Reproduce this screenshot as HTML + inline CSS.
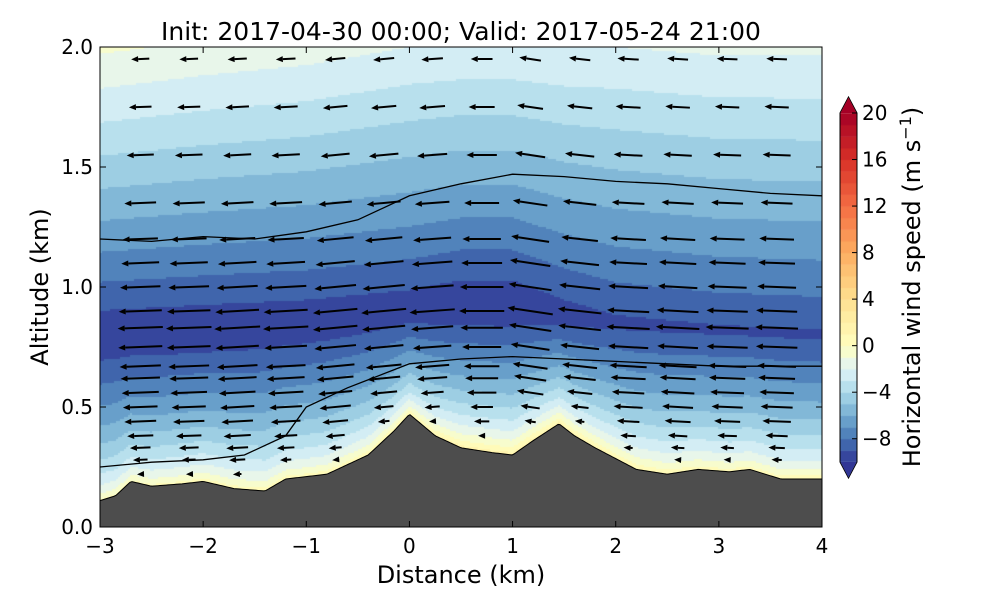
<!DOCTYPE html>
<html><head><meta charset="utf-8"><style>
body{margin:0;background:#fff;width:1000px;height:600px;overflow:hidden;font-family:"DejaVu Sans","Liberation Sans",sans-serif}
#wrap{position:relative;width:1000px;height:600px}
canvas,svg{position:absolute;left:0;top:0}
svg text{font-family:"DejaVu Sans","Liberation Sans",sans-serif}
</style></head><body>
<div id="wrap">
<canvas id="cv" width="1000" height="600"></canvas>
<svg id="sv" width="1000" height="600"></svg>
</div>
<script>
// ---- data ----
const colX = [-3,-2,-1,0,0.5,1,1.5,2,3,4];
const coreAlt = [0.8,0.82,0.85,0.9,0.92,0.92,0.88,0.85,0.82,0.8];
const coreSpeed = [-10,-10,-9.9,-9.8,-10,-10,-9.6,-9.3,-9.2,-9.2];
const topSpeed = [-0.8,-1.2,-1.5,-2,-2.1,-2.1,-2,-2,-1.8,-1.8];
const surfSpeed = [0.5,1,1,1.5,2,2,2,1.5,1,1];
const terrX = [-3,-2.85,-2.7,-2.5,-2.2,-2,-1.7,-1.4,-1.2,-0.8,-0.4,-0.15,0,0.25,0.5,0.8,1,1.2,1.45,1.6,1.8,2.2,2.5,2.8,3.1,3.3,3.6,4];
const terrZ = [0.11,0.13,0.19,0.17,0.18,0.19,0.16,0.15,0.2,0.22,0.3,0.4,0.47,0.38,0.33,0.31,0.3,0.36,0.43,0.38,0.33,0.24,0.22,0.24,0.23,0.24,0.2,0.2];
const line1X = [-3,-2.5,-2,-1.5,-1,-0.5,0,0.5,1,1.5,2,2.5,3,3.5,4];
const line1Z = [1.2,1.19,1.21,1.2,1.23,1.28,1.38,1.43,1.47,1.46,1.44,1.43,1.41,1.39,1.38];
const line2X = [-3,-2.5,-2,-1.6,-1.2,-1,-0.6,-0.3,0,0.5,1,1.5,2,2.5,3,3.5,4];
const line2Z = [0.25,0.27,0.28,0.3,0.38,0.5,0.58,0.63,0.68,0.7,0.71,0.7,0.69,0.68,0.67,0.67,0.67];
const arrowX = [-2.61,-2.14,-1.67,-1.2,-0.72,-0.25,0.22,0.7,1.17,1.65,2.12,2.6,3.08,3.56];
const arrowZ = [1.95,1.75,1.55,1.35,1.2,1.1,1.0,0.9,0.83,0.75,0.67,0.62,0.56,0.5,0.44,0.38,0.33,0.28,0.22];
const xTicks = [-3,-2,-1,0,1,2,3,4];
const yTicks = [0.0,0.5,1.0,1.5,2.0];
const cbTicks = [20,16,12,8,4,0,-4,-8];

// ---- scales ----
const X = x => 100 + (x + 3) * (722 / 7);
const Y = z => 527 - z * 240;
const CB = v => 462 - (v + 10) * (349 / 30);
function interp(xs, ys, x){
  if (x <= xs[0]) return ys[0];
  for (let i = 1; i < xs.length; i++) if (x <= xs[i]) {const t=(x-xs[i-1])/(xs[i]-xs[i-1]); return ys[i-1]+t*(ys[i]-ys[i-1]);}
  return ys[ys.length-1];
}
const stops = ['#313695','#4575b4','#74add1','#abd9e9','#e0f3f8','#ffffbf','#fee090','#fdae61','#f46d43','#d73027','#a50026'];
function hex(c){return [1,3,5].map(i=>parseInt(c.substr(i,2),16));}
function cmap(t){t=Math.max(0,Math.min(1,t));const f=t*10,i=Math.min(9,Math.floor(f)),u=f-i;const a=hex(stops[i]),b=hex(stops[i+1]);return 'rgb('+a.map((v,k)=>Math.round(v+u*(b[k]-v))).join(',')+')';}
function colorOf(v){const t = v<0 ? 0.5*(v+10)/10 : 0.5+0.5*v/20; return cmap(t);}
function speed(x, z){
  const terr = interp(terrX, terrZ, x), c = interp(colX, coreAlt, x), cv = interp(colX, coreSpeed, x);
  const tv = interp(colX, topSpeed, x), sv = interp(colX, surfSpeed, x);
  if (z >= c){const s=(z-c)/(2-c); return cv+(tv-cv)*Math.pow(s,0.9);}
  const h=Math.max(0,(z-terr)/(c-terr)); return sv+(cv-sv)*Math.pow(h,0.6);
}

// ---- field ----
const ctx = document.getElementById('cv').getContext('2d');
for (let px = 100; px < 822; px += 2) {
  const x = -3 + (px + 1 - 100) * 7 / 722;
  for (let py = 47; py < 527; py += 2) {
    const z = (527 - py - 1) / 240;
    let v = Math.floor(speed(x, z)) + 0.5;
    v = Math.max(-9.5, v);
    ctx.fillStyle = colorOf(v);
    ctx.fillRect(px, py, 2, 2);
  }
}
for (let v = -10; v < 20; v++) { ctx.fillStyle = colorOf(v + 0.5); ctx.fillRect(840, CB(v + 1), 17, CB(v) - CB(v + 1) + 0.5); }

// ---- svg ----
const NS = 'http://www.w3.org/2000/svg', sv = document.getElementById('sv');
function mk(tag, attrs, parent){const e=document.createElementNS(NS,tag);for(const k in attrs)e.setAttribute(k,attrs[k]);(parent||sv).appendChild(e);return e;}

[[line1X,line1Z,'contour-upper'],[line2X,line2Z,'contour-lower']].forEach(([xs,zs,n])=>{
  const p = mk('polyline',{points:xs.map((x,i)=>X(x)+','+Y(zs[i])).join(' '),fill:'none',stroke:'#000','stroke-width':1.3});
  
  
});

const ag = mk('g',{});


arrowX.forEach(x => {
  const terr = interp(terrX, terrZ, x);
  const slope = (interp(colX, coreAlt, x + 0.1) - interp(colX, coreAlt, x - 0.1)) / 0.2;
  arrowZ.forEach(z => {
    if (z < terr + 0.03) return;
    const u = speed(x, z);
    const near = Math.min(1, Math.max(0, (z - terr) / 0.25));
    const len = Math.abs(u) * 3.2 + 14 * near;
    if (len < 4) return;
    const dir = u < 0 ? -1 : 1;
    const dxp = dir * len, dyp = -dir * len * slope * 240 / 103 * 0.8;
    const x0 = X(x) - dxp / 2, y0 = Y(z) - dyp / 2, x1 = X(x) + dxp / 2, y1 = Y(z) + dyp / 2;
    const L = Math.hypot(dxp, dyp), ux = dxp / L, uy = dyp / L, hl = 7, hw = 3;
    const bx = x1 - ux * hl, by = y1 - uy * hl;
    const a = mk('g', {}, ag);
    
    
    mk('line', {x1:x0, y1:y0, x2:bx, y2:by, stroke:'#000', 'stroke-width':2}, a);
    mk('polygon', {points:`${x1},${y1} ${bx-uy*hw},${by+ux*hw} ${bx+uy*hw},${by-ux*hw}`, fill:'#000'}, a);
  });
});

let tp = `${X(-3)},527 `;
for (let px = 100; px <= 822; px += 2) { const x = -3 + (px - 100) * 7 / 722; tp += `${px},${Y(interp(terrX, terrZ, x))} `; }
tp += `822,527`;
const terrain = mk('polygon', {points:tp, fill:'#4d4d4d', stroke:'#000', 'stroke-width':1});



const fr = mk('rect', {x:100, y:47, width:722, height:480, fill:'none', stroke:'#000', 'stroke-width':1});



xTicks.forEach(t => {
  mk('line', {x1:X(t), y1:527, x2:X(t), y2:521, stroke:'#000'});
  mk('line', {x1:X(t), y1:47, x2:X(t), y2:53, stroke:'#000'});
  const tx = mk('text', {x:X(t), y:553, 'text-anchor':'middle', 'font-size':20});
  tx.textContent = (t < 0 ? '\u2212' + (-t) : t);
  
  
});
yTicks.forEach(t => {
  mk('line', {x1:100, y1:Y(t), x2:106, y2:Y(t), stroke:'#000'});
  mk('line', {x1:822, y1:Y(t), x2:816, y2:Y(t), stroke:'#000'});
  const tx = mk('text', {x:93, y:Y(t) + 7, 'text-anchor':'end', 'font-size':20});
  tx.textContent = t.toFixed(1);
  
  
});

const cbo = mk('path', {d:`M840,${CB(20)} L848.5,97 L857,${CB(20)} L857,${CB(-10)} L848.5,478 L840,${CB(-10)} Z`, fill:'none', stroke:'#000'});


mk('path', {d:`M840.5,${CB(20)} L848.5,97.5 L856.5,${CB(20)} Z`, fill:'#a50026'});
mk('path', {d:`M840.5,${CB(-10)} L848.5,477.5 L856.5,${CB(-10)} Z`, fill:'#313695'});
cbTicks.forEach(t => {
  mk('line', {x1:852, y1:CB(t), x2:857, y2:CB(t), stroke:'#000'});
  const tx = mk('text', {x:862, y:CB(t) + 7, 'font-size':20});
  tx.textContent = t < 0 ? '\u2212' + (-t) : t;
  
  
});

function label(txt, x, y, size, rot, name){
  const t = mk('text', {x, y, 'text-anchor':'middle', 'font-size':size, transform: rot ? `rotate(-90 ${x} ${y})` : ''});
  t.innerHTML = txt;
  
  
}
label('Init: 2017-04-30 00:00; Valid: 2017-05-24 21:00', 461, 40, 25, false, 'chart-title');
label('Distance (km)', 461, 583, 24, false, 'x-axis-title');
label('Altitude (km)', 48, 287, 24, true, 'y-axis-title');
label('Horizontal wind speed (m s<tspan font-size="16" dy="-9">\u22121</tspan><tspan dy="9">)</tspan>', 920, 287, 24, true, 'colorbar-title');
</script>
</body></html>
